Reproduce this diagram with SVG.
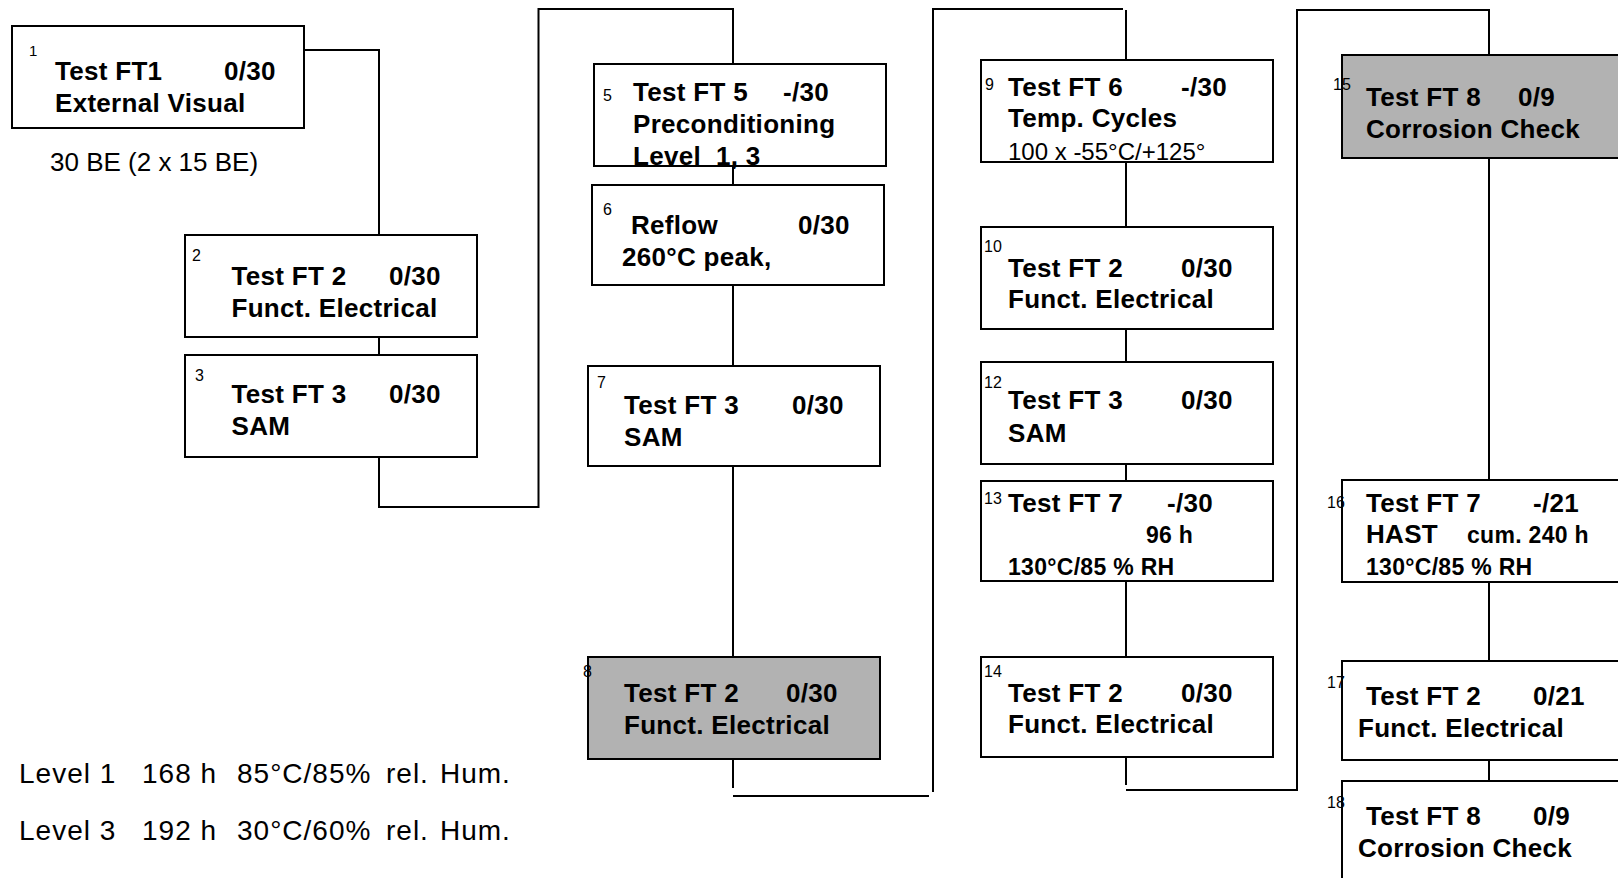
<svg xmlns="http://www.w3.org/2000/svg" width="1618" height="878" viewBox="0 0 1618 878">
<style>
.box{fill:#fff;stroke:#000;stroke-width:2}
.grey{fill:#b2b2b2;stroke:#000;stroke-width:2}
.b{font-family:"Liberation Sans",Arial,sans-serif;font-weight:bold;font-size:26px;letter-spacing:0.3px;fill:#000}
.s{font-family:"Liberation Sans",Arial,sans-serif;font-weight:bold;font-size:23px;letter-spacing:0.3px;fill:#000}
.r{font-family:"Liberation Sans",Arial,sans-serif;font-size:26px;fill:#000}
.r2{font-family:"Liberation Sans",Arial,sans-serif;font-size:24px;fill:#000}
.n{font-family:"Liberation Sans",Arial,sans-serif;font-size:16px;fill:#000}
.leg{font-family:"Liberation Sans",Arial,sans-serif;font-size:28px;letter-spacing:1px;fill:#000}
.c{fill:none;stroke:#000;stroke-width:2}
</style>
<rect width="1618" height="878" fill="#fff"/>
<g id="connectors">
<polyline class="c" points="304,50 379,50 379,235"/>
<line class="c" x1="379" y1="337" x2="379" y2="355"/>
<polyline class="c" points="379,457 379,507 538.5,507 538.5,9 733,9 733,64"/>
<line class="c" x1="733" y1="166" x2="733" y2="186"/>
<line class="c" x1="733" y1="285" x2="733" y2="366"/>
<line class="c" x1="733" y1="466" x2="733" y2="657"/>
<line class="c" x1="733" y1="759" x2="733" y2="788"/>
<line class="c" x1="733" y1="796" x2="929" y2="796"/>
<polyline class="c" points="933,792 933,9 1123,9"/>
<line class="c" x1="1126" y1="10" x2="1126" y2="60"/>
<line class="c" x1="1126" y1="162" x2="1126" y2="227"/>
<line class="c" x1="1126" y1="329" x2="1126" y2="362"/>
<line class="c" x1="1126" y1="464" x2="1126" y2="481"/>
<line class="c" x1="1126" y1="581" x2="1126" y2="657"/>
<line class="c" x1="1126" y1="757" x2="1126" y2="785"/>
<polyline class="c" points="1126,790 1297,790 1297,10 1490,10"/>
<line class="c" x1="1489" y1="10" x2="1489" y2="55"/>
<line class="c" x1="1489" y1="158" x2="1489" y2="480"/>
<line class="c" x1="1489" y1="582" x2="1489" y2="661"/>
<line class="c" x1="1489" y1="760" x2="1489" y2="781"/>
</g>
<g id="node1">
<rect class="box" x="12" y="26" width="292" height="102"/>
<text class="n" x="29" y="56" style="font-size:15px">1</text>
<text class="b" x="55" y="80">Test FT1</text>
<text class="b" x="224" y="80">0/30</text>
<text class="b" x="55" y="112">External Visual</text>
</g>
<text class="r" x="50" y="171">30 BE (2 x 15 BE)</text>
<g id="node2">
<rect class="box" x="185" y="235" width="292" height="102"/>
<text class="n" x="192" y="260.5">2</text>
<text class="b" x="231.5" y="285">Test FT 2</text>
<text class="b" x="389" y="285">0/30</text>
<text class="b" x="231.5" y="317">Funct. Electrical</text>
</g>
<g id="node3">
<rect class="box" x="185" y="355" width="292" height="102"/>
<text class="n" x="195" y="380.5">3</text>
<text class="b" x="231.5" y="403">Test FT 3</text>
<text class="b" x="389" y="403">0/30</text>
<text class="b" x="231.5" y="435">SAM</text>
</g>
<g id="node5">
<rect class="box" x="594" y="64" width="292" height="102"/>
<text class="n" x="603" y="101">5</text>
<text class="b" x="633" y="101">Test FT 5</text>
<text class="b" x="783" y="101">-/30</text>
<text class="b" x="633" y="133">Preconditioning</text>
<text class="b" x="633" y="165" xml:space="preserve">Level  1, 3</text>
</g>
<g id="node6">
<rect class="box" x="592" y="185" width="292" height="100"/>
<text class="n" x="603" y="215">6</text>
<text class="b" x="631" y="234">Reflow</text>
<text class="b" x="798" y="234">0/30</text>
<text class="b" x="622" y="265.5">260°C peak,</text>
</g>
<g id="node7">
<rect class="box" x="588" y="366" width="292" height="100"/>
<text class="n" x="597" y="388">7</text>
<text class="b" x="624" y="414">Test FT 3</text>
<text class="b" x="792" y="414">0/30</text>
<text class="b" x="624" y="446">SAM</text>
</g>
<g id="node8">
<rect class="grey" x="588" y="657" width="292" height="102"/>
<text class="n" x="583" y="677">8</text>
<text class="b" x="624" y="702">Test FT 2</text>
<text class="b" x="786" y="702">0/30</text>
<text class="b" x="624" y="734">Funct. Electrical</text>
</g>
<g id="node9">
<rect class="box" x="981" y="60" width="292" height="102"/>
<text class="n" x="985" y="90">9</text>
<text class="b" x="1008" y="96">Test FT 6</text>
<text class="b" x="1181" y="96">-/30</text>
<text class="b" x="1008" y="127">Temp. Cycles</text>
<text class="r2" x="1008" y="160">100 x -55°C/+125°</text>
</g>
<g id="node10">
<rect class="box" x="981" y="227" width="292" height="102"/>
<text class="n" x="984" y="251.5">10</text>
<text class="b" x="1008" y="276.5">Test FT 2</text>
<text class="b" x="1181" y="276.5">0/30</text>
<text class="b" x="1008" y="308">Funct. Electrical</text>
</g>
<g id="node12">
<rect class="box" x="981" y="362" width="292" height="102"/>
<text class="n" x="984" y="388">12</text>
<text class="b" x="1008" y="409">Test FT 3</text>
<text class="b" x="1181" y="409">0/30</text>
<text class="b" x="1008" y="441.5">SAM</text>
</g>
<g id="node13">
<rect class="box" x="981" y="481" width="292" height="100"/>
<text class="n" x="984" y="504">13</text>
<text class="b" x="1008" y="511.5">Test FT 7</text>
<text class="b" x="1167" y="511.5">-/30</text>
<text class="s" x="1146" y="543">96 h</text>
<text class="s" x="1008" y="575">130°C/85 % RH</text>
</g>
<g id="node14">
<rect class="box" x="981" y="657" width="292" height="100"/>
<text class="n" x="984" y="676.5">14</text>
<text class="b" x="1008" y="701.5">Test FT 2</text>
<text class="b" x="1181" y="701.5">0/30</text>
<text class="b" x="1008" y="733">Funct. Electrical</text>
</g>
<g id="node15">
<rect class="grey" x="1342" y="55" width="300" height="103"/>
<text class="n" x="1333" y="90">15</text>
<text class="b" x="1366" y="105.5">Test FT 8</text>
<text class="b" x="1518" y="105.5">0/9</text>
<text class="b" x="1366" y="137.5">Corrosion Check</text>
</g>
<g id="node16">
<rect class="box" x="1342" y="480" width="300" height="102"/>
<text class="n" x="1327" y="508">16</text>
<text class="b" x="1366" y="511.5">Test FT 7</text>
<text class="b" x="1533" y="511.5">-/21</text>
<text class="b" x="1366" y="543">HAST</text>
<text class="s" x="1467" y="543">cum. 240 h</text>
<text class="s" x="1366" y="575">130°C/85 % RH</text>
</g>
<g id="node17">
<rect class="box" x="1342" y="661" width="300" height="99"/>
<text class="n" x="1327" y="688">17</text>
<text class="b" x="1366" y="705">Test FT 2</text>
<text class="b" x="1533" y="705">0/21</text>
<text class="b" x="1358" y="736.5">Funct. Electrical</text>
</g>
<g id="node18">
<rect class="box" x="1342" y="781" width="300" height="120"/>
<text class="n" x="1327" y="808">18</text>
<text class="b" x="1366" y="825">Test FT 8</text>
<text class="b" x="1533" y="825">0/9</text>
<text class="b" x="1358" y="856.5">Corrosion Check</text>
</g>
<g id="legend">
<text class="leg" y="783"><tspan x="19">Level 1</tspan><tspan x="142">168 h</tspan><tspan x="237">85°C/85%</tspan><tspan x="386">rel.</tspan><tspan x="440">Hum.</tspan></text>
<text class="leg" y="840"><tspan x="19">Level 3</tspan><tspan x="142">192 h</tspan><tspan x="237">30°C/60%</tspan><tspan x="386">rel.</tspan><tspan x="440">Hum.</tspan></text>
</g>
</svg>
